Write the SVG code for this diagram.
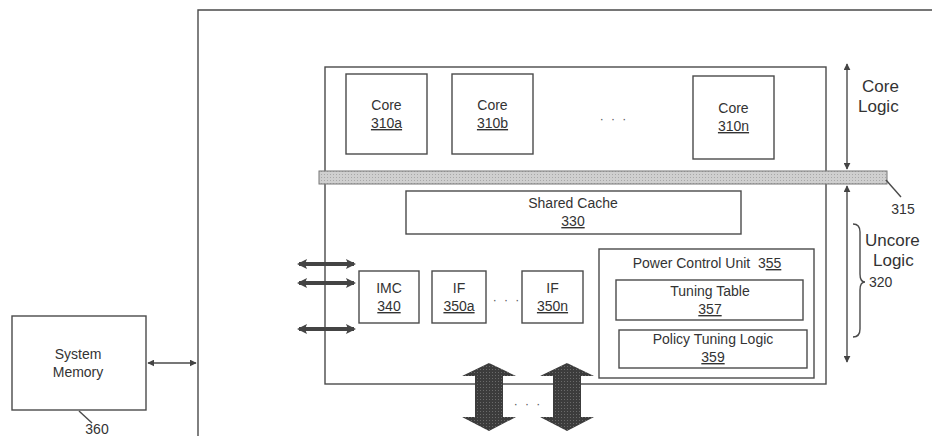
<svg xmlns="http://www.w3.org/2000/svg" width="932" height="436" viewBox="0 0 932 436">
<defs>
<style>
.box{fill:none;stroke:#4a4a4a;stroke-width:1.4}
.t{font-family:"Liberation Sans",Arial,sans-serif;font-size:14px;fill:#333;text-anchor:middle}
.big{font-family:"Liberation Sans",Arial,sans-serif;font-size:17px;fill:#333}
.u{text-decoration:underline}
.ln{fill:none;stroke:#4a4a4a;stroke-width:1.4}
.dots{font-family:"Liberation Sans",Arial,sans-serif;font-size:12px;fill:#555;text-anchor:middle;letter-spacing:2px}
</style>
<marker id="ah" viewBox="0 0 10 10" refX="9" refY="5" markerWidth="7" markerHeight="7" orient="auto-start-reverse" markerUnits="userSpaceOnUse">
<path d="M0,0 L10,5 L0,10 Z" fill="#444"/>
</marker>
<marker id="ahb" viewBox="0 0 10 10" refX="8" refY="5" markerWidth="10" markerHeight="10" orient="auto-start-reverse" markerUnits="userSpaceOnUse">
<path d="M0,0 L10,5 L0,10 L2,5 Z" fill="#444"/>
</marker>
<pattern id="hatch" width="3" height="3" patternUnits="userSpaceOnUse">
<rect width="3" height="3" fill="#3c3c3c"/>
<rect width="1" height="1" fill="#6a6a6a"/>
</pattern>
<pattern id="barfill" width="3" height="3" patternUnits="userSpaceOnUse">
<rect width="3" height="3" fill="#cfcfcf"/>
<rect width="1" height="1" fill="#a8a8a8"/>
</pattern>
</defs>
<rect width="932" height="436" fill="#fff"/>

<g id="outer-frame">
<path class="ln" d="M198,436 L198,10 L932,10"/>
</g>

<g id="processor">
<rect class="box" x="325" y="67" width="501" height="317"/>
</g>

<g id="core-310a">
<rect class="box" x="346" y="74" width="81" height="80"/>
<text class="t" x="386.5" y="110">Core</text>
<text class="t u" x="386.5" y="128">310a</text>
</g>
<g id="core-310b">
<rect class="box" x="452" y="74" width="81" height="80"/>
<text class="t" x="492.5" y="110">Core</text>
<text class="t u" x="492.5" y="128">310b</text>
</g>
<text class="dots" x="614" y="123">· · ·</text>
<g id="core-310n">
<rect class="box" x="693" y="76" width="81" height="83"/>
<text class="t" x="733.5" y="113">Core</text>
<text class="t u" x="733.5" y="131">310n</text>
</g>

<g id="bar-315">
<rect x="319" y="171" width="568" height="13" fill="url(#barfill)" stroke="#777" stroke-width="1"/>
<path class="ln" d="M886,180 L901,197"/>
<text class="t" x="903" y="214">315</text>
</g>

<g id="shared-cache-330">
<rect class="box" x="406" y="191" width="335" height="43"/>
<text class="t" x="573" y="208">Shared Cache</text>
<text class="t u" x="573" y="226">330</text>
</g>

<g id="imc-340">
<rect class="box" x="359" y="271" width="60" height="52"/>
<text class="t" x="389" y="293">IMC</text>
<text class="t u" x="389" y="311">340</text>
</g>
<g id="if-350a">
<rect class="box" x="432" y="271" width="54" height="52"/>
<text class="t" x="459" y="293">IF</text>
<text class="t u" x="459" y="311">350a</text>
</g>
<text class="dots" x="507" y="304">· · ·</text>
<g id="if-350n">
<rect class="box" x="522" y="271" width="61" height="52"/>
<text class="t" x="552.5" y="293">IF</text>
<text class="t u" x="552.5" y="311">350n</text>
</g>

<g id="pcu-355">
<rect class="box" x="599" y="249" width="215" height="129"/>
<text class="t" x="707" y="268" style="white-space:pre">Power Control Unit  3<tspan class="u">55</tspan></text>
</g>
<g id="tuning-table-357">
<rect class="box" x="616" y="280" width="187" height="40"/>
<text class="t" x="710" y="296">Tuning Table</text>
<text class="t u" x="710" y="314">357</text>
</g>
<g id="policy-tuning-logic-359">
<rect class="box" x="619" y="330" width="188" height="38"/>
<text class="t" x="713" y="344">Policy Tuning Logic</text>
<text class="t u" x="713" y="362">359</text>
</g>

<g id="system-memory-360">
<rect class="box" x="12" y="316" width="134" height="94"/>
<text class="t" x="78" y="359">System</text>
<text class="t" x="78" y="377">Memory</text>
<path class="ln" d="M79,411 L92,423"/>
<text class="t" x="97" y="434">360</text>
</g>

<g id="labels">
<text class="big" x="862" y="92">Core</text>
<text class="big" x="858" y="112">Logic</text>
<text class="big" x="865" y="246">Uncore</text>
<text class="big" x="873" y="266">Logic</text>
<text class="t" x="869" y="287" style="text-anchor:start">320</text>
<path class="ln" d="M853,224 Q860,224 860,232 L860,274 Q860,282 865,282 Q860,282 860,290 L860,329 Q860,337 853,337"/>
</g>

<g id="connectors">
<line class="ln" x1="148" y1="363" x2="196" y2="363" marker-start="url(#ah)" marker-end="url(#ah)"/>
<line class="ln" x1="847" y1="64" x2="847" y2="169" marker-start="url(#ah)" marker-end="url(#ah)"/>
<line class="ln" x1="847" y1="186" x2="847" y2="362" marker-start="url(#ah)" marker-end="url(#ah)"/>
<line x1="299" y1="264" x2="354" y2="264" stroke="#444" stroke-width="4" marker-start="url(#ahb)" marker-end="url(#ahb)"/>
<line x1="299" y1="283" x2="354" y2="283" stroke="#444" stroke-width="4" marker-start="url(#ahb)" marker-end="url(#ahb)"/>
<line x1="299" y1="329" x2="354" y2="329" stroke="#444" stroke-width="4" marker-start="url(#ahb)" marker-end="url(#ahb)"/>
<polygon points="489,363 516,376 503,376 503,417 516,417 489,431 462,417 475,417 475,376 462,376" fill="url(#hatch)"/>
<polygon points="567,363 594,376 581,376 581,417 594,417 567,431 540,417 553,417 553,376 540,376" fill="url(#hatch)"/>
<text class="dots" x="528" y="408">· · ·</text>
</g>
</svg>
